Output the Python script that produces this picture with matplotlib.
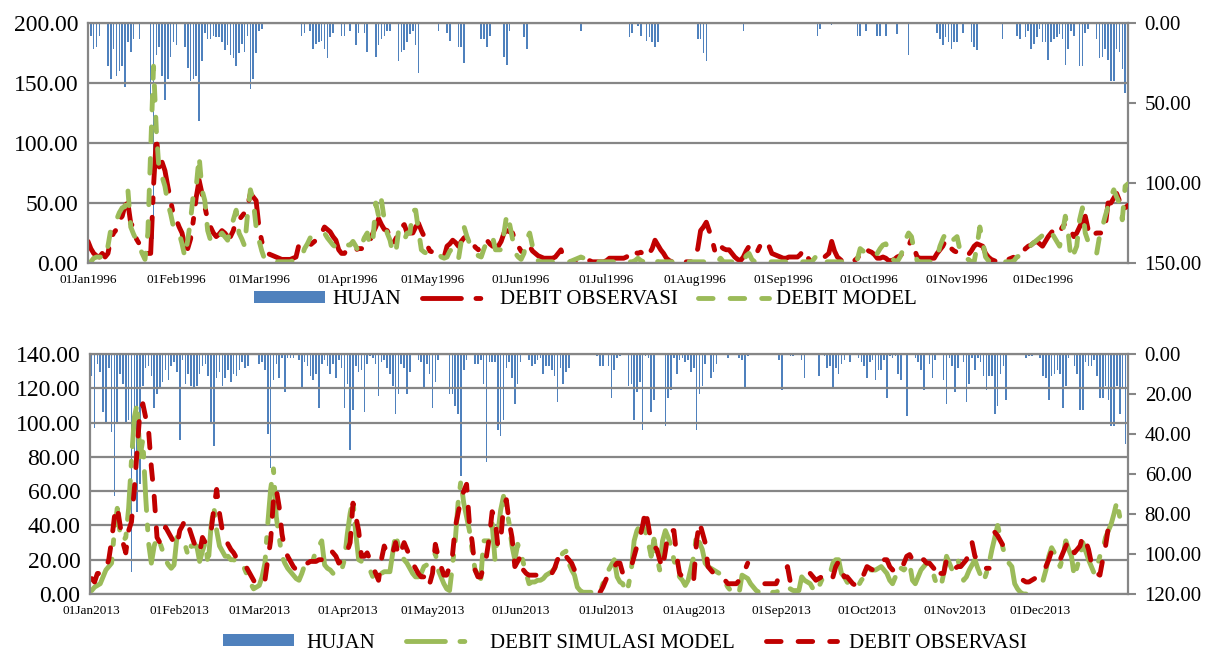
import numpy as np
import matplotlib
matplotlib.use('Agg')
import matplotlib.pyplot as plt
from matplotlib.patches import Patch
from matplotlib.lines import Line2D
from matplotlib.ticker import FormatStrFormatter

plt.rcParams['font.family'] = ['Liberation Serif', 'DejaVu Serif']

nan = np.nan

months = ['Jan', 'Feb', 'Mar', 'Apr', 'May', 'Jun', 'Jul', 'Aug', 'Sep', 'Oct', 'Nov', 'Dec']
month_start_1996 = [0, 31, 60, 91, 121, 152, 182, 213, 244, 274, 305, 335]
month_start_2013 = [0, 31, 59, 90, 120, 151, 181, 212, 243, 273, 304, 334]

# ---------------- 1996 (daily) ----------------
rain_1996 = [
    10, 8, 16, 15, 8, 0, 0, 27, 35, 16, 33, 30, 27, 40, 12, 18, 10, 0, 10, 0, 0, 0, 48, 135, 20, 15, 33, 48, 35, 21, 12,
    14, 0, 0, 15, 28, 36, 35, 33, 61, 24, 6, 10, 10, 8, 9, 9, 12, 17, 14, 20, 22, 27, 19, 13, 18, 8, 41, 35, 19,
    5, 4, 0, 0, 0, 0, 0, 0, 0, 0, 0, 0, 0, 0, 0, 8, 6, 0, 5, 16, 13, 12, 11, 16, 22, 9, 6, 0, 0, 8, 8,
    0, 5, 0, 14, 6, 0, 6, 18, 0, 0, 21, 14, 10, 8, 5, 5, 0, 0, 24, 18, 17, 12, 7, 5, 14, 31, 0, 0, 0, 0,
    0, 0, 5, 0, 0, 6, 11, 0, 0, 15, 15, 25, 0, 0, 0, 0, 0, 10, 10, 15, 8, 0, 0, 0, 0, 21, 26, 5, 0, 0, 0,
    0, 9, 16, 0, 0, 0, 0, 0, 0, 0, 0, 0, 0, 0, 0, 0, 0, 0, 0, 0, 0, 5, 0, 0, 0, 0, 0, 0, 0, 0,
    0, 0, 0, 0, 0, 0, 0, 0, 9, 6, 0, 2, 8, 0, 11, 9, 12, 15, 12, 0, 0, 0, 0, 0, 0, 0, 0, 0, 0, 0, 0,
    0, 10, 10, 19, 24, 0, 0, 0, 0, 0, 0, 0, 0, 0, 0, 0, 0, 5, 0, 0, 0, 0, 0, 0, 0, 0, 0, 0, 0, 0, 0,
    0, 0, 0, 0, 0, 0, 0, 0, 0, 0, 0, 0, 8, 4, 0, 0, 0, 1, 0, 0, 0, 0, 0, 0, 0, 0, 8, 8, 0, 5,
    0, 0, 0, 8, 8, 0, 8, 0, 0, 0, 7, 0, 0, 0, 20, 0, 0, 0, 0, 0, 0, 0, 0, 0, 6, 10, 14, 9, 12, 16, 12,
    12, 0, 6, 0, 0, 12, 15, 17, 0, 0, 0, 0, 0, 0, 0, 0, 10, 0, 0, 0, 0, 8, 10, 0, 9, 5, 16, 13, 9, 4,
    12, 12, 23, 12, 10, 9, 7, 10, 26, 16, 5, 8, 0, 27, 27, 6, 4, 0, 0, 10, 22, 21, 16, 23, 36, 36, 16, 18, 29, 44, 33,
]
obs_1996 = [
    18, 12, 8, 6, 5, 8, 5, 8, 20, 25, 28, 36, 39, 48, 50, 33, 30, 20, 16, 12, 9, 8, 8, 64, 105, 80, 84, 77, 64, 52, 40,
    36, 30, 25, 14, 12, 20, 36, 55, 69, 58, 47, 36, 30, 25, 22, 24, 27, 25, 22, 22, 27, 36, 36, 39, 42, 47, 58, 55, 52,
    30, 18, 11, 8, 7, 6, 5, 4, 3, 3, 3, 3, 4, 5, 15, 15, 14, 14, 15, 17, 19, 22, 25, 30, 28, 26, 22, 19, 11, 8, 8,
    12, 11, 11, 11, 12, 12, 12, 15, 19, 25, 30, 37, 32, 28, 27, 22, 16, 20, 25, 30, 32, 25, 25, 25, 30, 33, 27, 22, 15, 10,
    9, 8, 6, 5, 5, 14, 16, 19, 17, 14, 18, 21, 22, 19, 16, 13, 11, 13, 17, 19, 16, 14, 14, 14, 18, 25, 27, 26, 25, 18, 14,
    10, 8, 12, 14, 10, 8, 6, 5, 4, 4, 4, 4, 5, 8, 11, 4, 2, 1, 1, 1, 1, 1, 1, 2, 2, 1, 1, 1, 1, 1,
    2, 4, 4, 4, 4, 4, 4, 5, 8, 11, 9, 8, 9, 7, 5, 8, 12, 19, 15, 11, 8, 4, 2, 1, 1, 1, 1, 1, 1, 1, 1,
    5, 12, 27, 30, 34, 27, 20, 10, 16, 14, 12, 11, 11, 8, 5, 3, 2, 5, 10, 14, 11, 8, 10, 15, 16, 18, 14, 8, 7, 6, 5,
    4, 4, 5, 5, 5, 5, 7, 11, 8, 3, 1, 1, 2, 3, 4, 6, 8, 18, 10, 5, 3, 1, 1, 1, 2, 2, 4, 7, 10, 12,
    10, 9, 7, 4, 4, 5, 4, 2, 2, 3, 5, 6, 8, 11, 14, 20, 12, 5, 4, 4, 4, 4, 4, 4, 8, 11, 14, 19, 15, 12, 10,
    9, 8, 8, 7, 7, 10, 14, 16, 15, 14, 8, 5, 3, 2, 1, 1, 1, 2, 3, 4, 5, 6, 7, 9, 12, 14, 15, 17, 18, 16,
    14, 18, 22, 25, 28, 29, 26, 30, 33, 30, 27, 22, 25, 30, 35, 39, 28, 22, 24, 25, 25, 25, 30, 50, 50, 54, 58, 52, 44, 46, 48,
]
model_1996 = [
    0, 1, 4, 5, 5, 5, 4, 14, 28, 32, 36, 42, 46, 47, 61, 30, 24, 19, 14, 8, 3, 25, 94, 164, 110, 75, 72, 64, 50, 41, 30,
    28, 25, 16, 5, 19, 36, 58, 64, 89, 61, 52, 27, 19, 17, 18, 22, 25, 22, 19, 28, 36, 44, 25, 20, 14, 41, 61, 52, 30,
    19, 10, 3, 1, 1, 1, 1, 1, 1, 1, 1, 1, 2, 3, 4, 5, 12, 16, 21, 22, 23, 23, 24, 25, 21, 18, 15, 13, 11, 12, 14,
    15, 15, 18, 14, 9, 15, 21, 25, 14, 19, 50, 39, 52, 36, 25, 19, 8, 8, 27, 22, 19, 25, 25, 44, 44, 27, 11, 9, 8, 8,
    8, 8, 8, 5, 4, 5, 10, 12, 6, 3, 18, 30, 22, 16, 14, 10, 6, 5, 12, 18, 21, 22, 11, 11, 11, 25, 41, 32, 20, 8, 5,
    3, 8, 20, 25, 14, 5, 2, 1, 1, 1, 1, 1, 1, 1, 1, 1, 1, 1, 2, 3, 4, 5, 4, 2, 1, 1, 1, 1, 1, 1,
    1, 1, 1, 1, 1, 1, 1, 1, 1, 1, 2, 4, 2, 1, 1, 2, 4, 3, 1, 1, 1, 1, 1, 1, 1, 1, 1, 1, 1, 1, 1,
    1, 1, 1, 1, 1, 1, 1, 1, 1, 4, 1, 1, 1, 1, 1, 1, 1, 1, 6, 8, 3, 1, 1, 1, 1, 1, 1, 1, 1, 1, 1,
    1, 1, 1, 1, 1, 1, 1, 1, 1, 1, 1, 4, 7, 3, 1, 1, 1, 1, 1, 1, 1, 1, 1, 1, 1, 1, 3, 12, 10, 8,
    7, 6, 5, 8, 12, 15, 16, 10, 4, 2, 1, 5, 11, 20, 25, 22, 10, 2, 1, 1, 1, 1, 1, 1, 5, 14, 20, 25, 22, 18, 20,
    22, 11, 6, 3, 3, 1, 1, 14, 30, 18, 5, 2, 1, 1, 1, 1, 1, 1, 1, 1, 2, 5, 6, 8, 10, 12, 15, 17, 19, 21,
    23, 25, 28, 26, 22, 18, 14, 25, 39, 25, 3, 8, 14, 36, 46, 25, 18, 14, 10, 8, 22, 30, 39, 47, 55, 61, 55, 50, 36, 64, 66,
]

# ---------------- 2013 (daily) ----------------
rain_2013 = [
    11, 37, 5, 9, 29, 35, 7, 39, 71, 34, 10, 15, 34, 33, 109, 56, 79, 65, 16, 7, 6, 11, 27, 20, 17, 14, 8, 13, 6, 4, 9,
    43, 3, 15, 10, 16, 17, 16, 10, 6, 5, 11, 35, 46, 12, 9, 16, 12, 8, 14, 10, 11, 8, 4, 7, 6, 0, 0, 0,
    5, 4, 8, 40, 57, 13, 5, 12, 2, 19, 2, 2, 2, 0, 3, 17, 4, 6, 11, 13, 10, 27, 5, 3, 6, 10, 5, 12, 3, 7, 27,
    15, 48, 28, 6, 9, 8, 29, 5, 1, 2, 5, 21, 4, 3, 7, 10, 16, 30, 20, 5, 7, 20, 9, 0, 0, 3, 4, 17, 5, 10,
    27, 14, 3, 0, 0, 0, 20, 20, 26, 30, 61, 8, 3, 0, 0, 5, 5, 3, 15, 54, 4, 4, 4, 38, 41, 33, 7, 4, 12, 25, 15,
    4, 0, 0, 3, 6, 5, 3, 2, 10, 6, 6, 8, 11, 24, 7, 15, 9, 7, 0, 0, 0, 0, 0, 0, 0, 0, 0, 1, 6, 6,
    0, 6, 22, 8, 2, 1, 0, 0, 16, 15, 33, 19, 14, 38, 1, 2, 29, 23, 0, 0, 0, 36, 22, 18, 2, 10, 3, 2, 4, 3, 9,
    7, 38, 20, 16, 5, 0, 12, 9, 5, 0, 0, 0, 2, 0, 0, 0, 2, 3, 17, 1, 0, 0, 0, 0, 0, 0, 0, 0, 0, 0, 3,
    18, 0, 0, 1, 1, 0, 0, 3, 12, 0, 0, 0, 0, 11, 0, 1, 7, 6, 17, 7, 10, 5, 3, 0, 4, 0, 0, 2, 4, 6,
    12, 4, 3, 13, 8, 8, 3, 22, 1, 2, 1, 10, 13, 0, 31, 0, 0, 2, 4, 8, 18, 0, 5, 12, 3, 0, 0, 13, 25, 2, 6,
    19, 7, 0, 4, 24, 15, 2, 8, 2, 4, 11, 18, 11, 11, 30, 26, 10, 6, 23, 0, 0, 0, 0, 0, 0, 2, 1, 1, 0, 0,
    2, 11, 12, 23, 11, 10, 8, 10, 27, 16, 2, 0, 6, 10, 28, 28, 4, 6, 6, 3, 11, 22, 22, 16, 23, 36, 36, 16, 30, 17, 45,
]
model_2013 = [
    2, 4, 5, 6, 10, 14, 16, 18, 37, 50, 35, 31, 33, 50, 78, 103, 111, 80, 90, 57, 30, 18, 28, 33, 30, 25, 20, 17, 15, 17, 33,
    33, 30, 28, 22, 28, 28, 28, 19, 25, 30, 17, 39, 51, 37, 28, 25, 22, 22, 20, 20, 19, 18, 18, 14, 10, 6, 3, 4,
    5, 10, 18, 41, 61, 73, 45, 33, 22, 18, 15, 13, 11, 9, 8, 12, 17, 17, 17, 20, 26, 28, 31, 17, 15, 14, 12, 11, 12, 14, 20,
    35, 47, 55, 35, 20, 19, 18, 16, 14, 10, 8, 10, 12, 13, 13, 13, 24, 35, 28, 24, 20, 18, 15, 12, 10, 10, 12, 16, 17, 18,
    20, 24, 14, 10, 6, 3, 2, 16, 31, 53, 66, 53, 45, 37, 25, 14, 11, 9, 31, 31, 31, 41, 20, 35, 49, 57, 50, 41, 28, 20, 29,
    25, 18, 12, 6, 7, 7, 8, 8, 9, 11, 12, 13, 15, 18, 22, 24, 25, 18, 14, 11, 4, 2, 1, 1, 1, 1, 1, 1, 1, 6,
    8, 14, 17, 20, 10, 7, 6, 1, 5, 14, 31, 37, 40, 42, 36, 30, 22, 32, 22, 14, 31, 37, 33, 28, 20, 14, 10, 8, 5, 8, 15,
    22, 35, 30, 26, 18, 16, 15, 14, 13, 12, 10, 7, 4, 2, 0, 1, 1, 11, 10, 9, 6, 4, 2, 1, 1, 1, 1, 1, 1, 1, 2,
    3, 4, 4, 3, 2, 2, 2, 10, 8, 7, 6, 3, 1, 4, 8, 10, 11, 12, 18, 20, 20, 12, 10, 7, 5, 5, 5, 5, 8, 10,
    14, 14, 14, 14, 15, 16, 14, 12, 8, 6, 10, 16, 15, 14, 16, 18, 8, 6, 10, 14, 16, 18, 16, 14, 8, 6, 4, 12, 22, 18, 14,
    18, 20, 14, 8, 10, 14, 17, 20, 15, 11, 7, 12, 18, 26, 33, 40, 33, 26, 22, 18, 16, 6, 3, 1, 0, 0, nan, nan, nan, nan,
    nan, 8, 14, 22, 27, 24, 20, 16, 22, 31, 26, 22, 10, 16, 22, 30, 25, 20, 16, 12, 16, 22, 26, 33, 37, 41, 47, 54, 45, 45, 51,
]
obs_2013 = [
    9, 7, 12, 12, 12, 15, 20, 31, 45, 51, 40, 30, 24, 37, 42, 61, 84, 107, 111, 103, 96, 74, 57, 33, 30, 35, 39, 36, 33, 30, 28,
    37, 40, 44, 40, 35, 30, 27, 24, 33, 30, 32, 36, 50, 61, 47, 37, 33, 29, 26, 24, 21, 20, 19, 17, 14, 11, 8, 5,
    5, 7, 8, 20, 31, 55, 61, 51, 35, 26, 22, 19, 16, 14, 16, 18, 18, 18, 19, 19, 19, 20, 20, 22, 24, 26, 24, 22, 18, 20, 22,
    25, 30, 53, 45, 37, 22, 22, 24, 20, 16, 12, 8, 20, 28, 24, 22, 24, 30, 22, 25, 30, 26, 22, 18, 15, 12, 10, 10, 4, 6,
    12, 29, 22, 16, 11, 11, 16, 22, 39, 47, 55, 60, 64, 41, 30, 14, 10, 10, 16, 22, 33, 48, 45, 28, 31, 51, 55, 42, 33, 16, 19,
    22, 14, 12, 11, 11, 11, 11, 11, 11, 11, 12, 12, 15, 20, 22, 25, 22, 20, 18, 14, 10, 8, nan, nan, nan, nan, nan, nan, 1, 4,
    8, 12, 14, 16, 18, 18, 12, 14, 16, 16, 22, 28, 33, 40, 49, 40, 30, 28, 26, 20, 15, 25, 36, 37, 37, 22, 12, 10, nan, nan, nan,
    9, 31, 42, 36, 30, 16, 14, 12, 11, 11, 10, 8, 6, 6, 6, 6, 8, 10, 14, 18, nan, nan, nan, nan, nan, 6, 6, 6, 6, 6, 10,
    12, 14, 16, 7, nan, nan, nan, nan, nan, nan, 12, 10, 8, 9, 10, nan, nan, nan, 10, 16, 19, 14, 10, 10, 8, 6, 5, 5, 8, 12,
    16, 15, 14, 14, 16, 18, 20, 20, 16, 14, 14, 13, 13, 18, 22, 23, 20, 18, 18, 20, 20, 18, 18, 16, 14, nan, 12, 12, 20, 18, 15,
    15, 16, 16, 18, 20, 25, 30, 22, 20, 20, 18, 15, 15, nan, 36, 34, 31, 28, 25, 22, nan, nan, nan, nan, 8, 7, 7, 8, 9, nan,
    nan, nan, 16, 20, 25, 24, 24, 20, 24, 28, 31, 28, 24, 26, 28, 34, 31, 26, 18, 14, 12, 11, 20, 28, 39, 39, 42, nan, nan, nan, nan,
]

BLUE = '#4F81BD'
RED = '#C00000'
GREEN = '#9BBB59'
GRAY = '#868686'
LW = 3.5
DASH_DOT = (8, 3, 1, 3)
DASH = (3, 3.5)


def draw_panel(ax, rain, lines, year, month_start, ymax_left, ystep_left, ymax_right, ystep_right, xlim):
    ax2 = ax.twinx()
    ax.set_zorder(ax2.get_zorder() + 1)
    ax.patch.set_visible(False)

    ax2.bar(np.arange(len(rain)), rain, width=0.55, color=BLUE, linewidth=0)
    ax2.set_ylim(ymax_right, 0)
    ax2.set_yticks(np.arange(0, ymax_right + 1, ystep_right))
    ax2.yaxis.set_major_formatter(FormatStrFormatter('%.2f'))
    ax2.tick_params(axis='y', direction='out', length=6, width=1.5, color=GRAY, labelsize=15, pad=6)

    for vals, color, dashes in lines:
        v = np.array(vals, dtype=float)
        ax.plot(np.arange(len(v)), v, color=color, lw=LW, dashes=dashes,
                dash_capstyle='round', solid_capstyle='round', dash_joinstyle='round')

    ax.set_ylim(0, ymax_left)
    ax.set_yticks(np.arange(0, ymax_left + 1, ystep_left))
    ax.yaxis.set_major_formatter(FormatStrFormatter('%.2f'))
    ax.yaxis.grid(True, color=GRAY, lw=1.6)
    ax.tick_params(axis='y', length=0, labelsize=17, pad=7)
    ax.set_xlim(*xlim)
    ax.set_xticks(month_start)
    ax.set_xticklabels(['01%s%d' % (m, year) for m in months])
    ax.tick_params(axis='x', length=0, labelsize=9.5, pad=8)
    ax2.set_xlim(*xlim)

    for a in (ax, ax2):
        for s in a.spines.values():
            s.set_visible(False)
    for s in ('left', 'bottom', 'top'):
        ax.spines[s].set_visible(True)
        ax.spines[s].set_color(GRAY)
        ax.spines[s].set_linewidth(1.6)
    ax2.spines['right'].set_visible(True)
    ax2.spines['right'].set_color(GRAY)
    ax2.spines['right'].set_linewidth(1.6)


fig = plt.figure(figsize=(12.12, 6.55), dpi=100)
W, H = 1212, 655

ax_top = fig.add_axes([88 / W, (H - 263) / H, 1040 / W, 240 / H])
draw_panel(ax_top, rain_1996,
           [(obs_1996, RED, DASH_DOT), (model_1996, GREEN, DASH)],
           1996, month_start_1996, 200, 50, 150, 50, (0, 365))

ax_bot = fig.add_axes([90 / W, (H - 594) / H, 1038 / W, 240 / H])
draw_panel(ax_bot, rain_2013,
           [(model_2013, GREEN, DASH_DOT), (obs_2013, RED, DASH)],
           2013, month_start_2013, 140, 20, 120, 20, (-0.6, 364.9))


def line_handle(color, dashes):
    return Line2D([], [], color=color, lw=LW, dashes=dashes, dash_capstyle='round')


leg_kw = dict(loc='center', ncol=3, frameon=False, fontsize=15, handlelength=3.4,
              handleheight=0.5, borderaxespad=0)
fig.legend([Patch(facecolor=BLUE, edgecolor='none'), line_handle(RED, DASH_DOT), line_handle(GREEN, DASH)],
           ['HUJAN', 'DEBIT OBSERVASI', 'DEBIT MODEL'],
           bbox_to_anchor=(585.5 / W, 1 - 300 / H), handletextpad=0.35, columnspacing=1.0, **leg_kw)
fig.legend([Patch(facecolor=BLUE, edgecolor='none'), line_handle(GREEN, DASH_DOT), line_handle(RED, DASH)],
           ['HUJAN', 'DEBIT SIMULASI MODEL', 'DEBIT OBSERVASI'],
           bbox_to_anchor=(625 / W, 1 - 643 / H), handletextpad=0.6, columnspacing=1.5, **leg_kw)

fig.savefig('out.png', dpi=100, facecolor='white')
